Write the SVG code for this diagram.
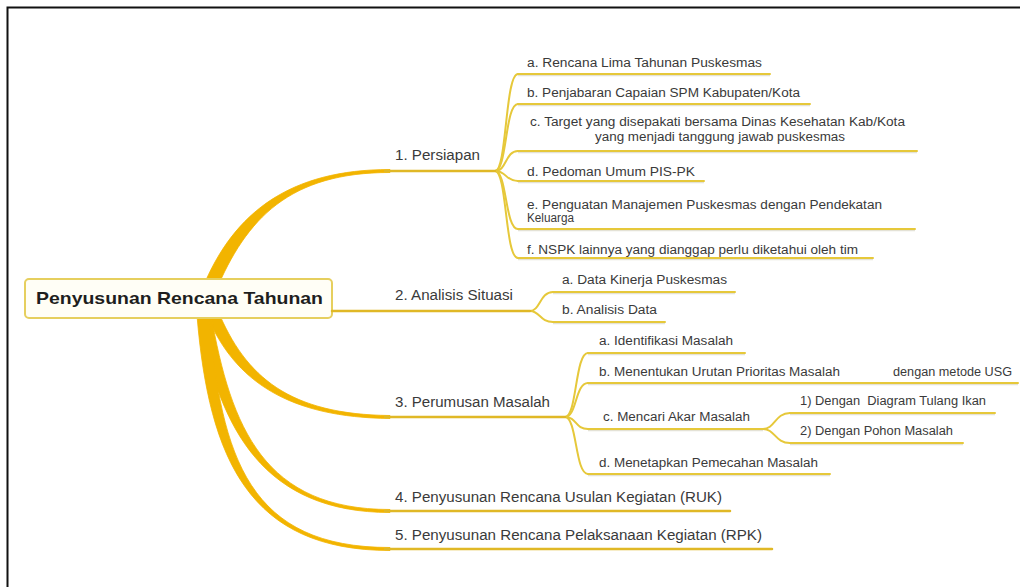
<svg xmlns="http://www.w3.org/2000/svg" width="1020" height="587" viewBox="0 0 1020 587">
<style>
.t1{font-family:"Liberation Sans",Arial,sans-serif;font-size:14px;fill:#3a3a3a}
.t2{font-family:"Liberation Sans",Arial,sans-serif;font-size:12px;fill:#3a3a3a}
.root{font-family:"Liberation Sans",Arial,sans-serif;font-size:17px;font-weight:bold;fill:#1e1e1e}
.ul1{stroke:#e0b826;stroke-width:2.5;fill:none;stroke-linecap:round}
.ul2{stroke:#e6c83a;stroke-width:2;fill:none;stroke-linecap:round}
.sh{stroke:#e4e2d6;stroke-width:1.5;fill:none}
.br{fill:#f2b400;stroke:#f2b400;stroke-width:0.8;stroke-linejoin:round}
.sub{stroke:#e6c83a;stroke-width:2;fill:none;stroke-linecap:round}
</style>
<rect width="1020" height="587" fill="#ffffff"/>
<path d="M 7.5 587 V 7.5 H 1020" fill="none" stroke="#111" stroke-width="2"/>

<g id="connectors">
  <path class="br" d="M 202.6 288 C 233.6 212.2, 290 169.5, 390 169.5 L 390 172.5 C 290 172.5, 246.4 217.8, 215.4 292 Z"/>
  <path class="br" d="M 206.5 314.3 C 234.5 382.3, 290 417.5, 390 418.5 L 390 415.5 C 290 414.5, 245.5 377.7, 217.5 309.7 Z"/>
  <path class="br" d="M 199.1 316 C 219.1 431, 265 512.5, 390 512.5 L 390 509.5 C 265 509.5, 230.9 429, 210.9 314 Z"/>
  <path class="br" d="M 197 315.5 C 209 460.5, 250 550.5, 390 550.5 L 390 547.5 C 250 547.5, 221 459.5, 209 314.5 Z"/>
  <path class="sub" d="M 495 171 C 507 171, 505 74, 518 74"/>
  <path class="sub" d="M 495 171 C 507 171, 505 104, 518 104"/>
  <path class="sub" d="M 495 171 C 507 171, 505 151, 518 151"/>
  <path class="sub" d="M 495 171 C 507 171, 505 181, 518 181"/>
  <path class="sub" d="M 495 171 C 507 171, 505 229, 518 229"/>
  <path class="sub" d="M 495 171 C 507 171, 505 258, 518 258"/>
  <path class="sub" d="M 530 311 C 540 311, 540 292, 553 292"/>
  <path class="sub" d="M 530 311 C 540 311, 540 322, 553 322"/>
  <path class="sub" d="M 565 417 C 577 417, 575 353, 588 353"/>
  <path class="sub" d="M 565 417 C 577 417, 575 383, 588 383"/>
  <path class="sub" d="M 565 417 C 577 417, 575 429, 588 429"/>
  <path class="sub" d="M 565 417 C 577 417, 575 474, 588 474"/>
  <path class="sub" d="M 763 429 C 775 429, 775 413, 790 413"/>
  <path class="sub" d="M 763 429 C 775 429, 775 443, 790 443"/>
</g>

<g id="root">
  <rect x="25" y="279" width="307" height="39" rx="4" fill="#fffef6" stroke="#e6cf5e" stroke-width="2"/>
  <text class="root" x="36" y="304" textLength="287" lengthAdjust="spacingAndGlyphs">Penyusunan Rencana Tahunan</text>
</g>

<g id="n1">
  <line class="ul1" x1="385" y1="171" x2="495" y2="171"/>
  <text class="t1" x="395" y="160" textLength="85" lengthAdjust="spacingAndGlyphs">1. Persiapan</text>
</g>
<g id="n1a">
  <line class="sh" x1="518" y1="75.5" x2="770" y2="75.5"/>
  <line class="ul2" x1="518" y1="74" x2="770" y2="74"/>
  <text class="t2" x="527" y="67" textLength="235" lengthAdjust="spacingAndGlyphs">a. Rencana Lima Tahunan Puskesmas</text>
</g>
<g id="n1b">
  <line class="sh" x1="518" y1="105.5" x2="810" y2="105.5"/>
  <line class="ul2" x1="518" y1="104" x2="810" y2="104"/>
  <text class="t2" x="527" y="97" textLength="273" lengthAdjust="spacingAndGlyphs">b. Penjabaran Capaian SPM Kabupaten/Kota</text>
</g>
<g id="n1c">
  <line class="sh" x1="518" y1="152.5" x2="917" y2="152.5"/>
  <line class="ul2" x1="518" y1="151" x2="917" y2="151"/>
  <text class="t2" x="530" y="126" textLength="375" lengthAdjust="spacingAndGlyphs">c. Target yang disepakati bersama Dinas Kesehatan Kab/Kota</text>
  <text class="t2" x="595" y="141" textLength="250" lengthAdjust="spacingAndGlyphs">yang menjadi tanggung jawab puskesmas</text>
</g>
<g id="n1d">
  <line class="sh" x1="518" y1="182.5" x2="704" y2="182.5"/>
  <line class="ul2" x1="518" y1="181" x2="704" y2="181"/>
  <text class="t2" x="527" y="176" textLength="168" lengthAdjust="spacingAndGlyphs">d. Pedoman Umum PIS-PK</text>
</g>
<g id="n1e">
  <line class="sh" x1="518" y1="230.5" x2="915" y2="230.5"/>
  <line class="ul2" x1="518" y1="229" x2="915" y2="229"/>
  <text class="t2" x="527" y="209" textLength="355" lengthAdjust="spacingAndGlyphs">e. Penguatan Manajemen Puskesmas dengan Pendekatan</text>
  <text class="t2" x="527" y="222" textLength="47" lengthAdjust="spacingAndGlyphs">Keluarga</text>
</g>
<g id="n1f">
  <line class="sh" x1="518" y1="259.5" x2="873" y2="259.5"/>
  <line class="ul2" x1="518" y1="258" x2="873" y2="258"/>
  <text class="t2" x="527" y="254" textLength="331" lengthAdjust="spacingAndGlyphs">f. NSPK lainnya yang dianggap perlu diketahui oleh tim</text>
</g>

<g id="n2">
  <line class="ul1" x1="332" y1="311" x2="530" y2="311"/>
  <text class="t1" x="395" y="300" textLength="118" lengthAdjust="spacingAndGlyphs">2. Analisis Situasi</text>
</g>
<g id="n2a">
  <line class="sh" x1="553" y1="293.5" x2="735" y2="293.5"/>
  <line class="ul2" x1="553" y1="292" x2="735" y2="292"/>
  <text class="t2" x="562" y="284" textLength="165" lengthAdjust="spacingAndGlyphs">a. Data Kinerja Puskesmas</text>
</g>
<g id="n2b">
  <line class="sh" x1="553" y1="323.5" x2="665" y2="323.5"/>
  <line class="ul2" x1="553" y1="322" x2="665" y2="322"/>
  <text class="t2" x="562" y="314" textLength="95" lengthAdjust="spacingAndGlyphs">b. Analisis Data</text>
</g>

<g id="n3">
  <line class="ul1" x1="385" y1="417" x2="565" y2="417"/>
  <text class="t1" x="395" y="407" textLength="155" lengthAdjust="spacingAndGlyphs">3. Perumusan Masalah</text>
</g>
<g id="n3a">
  <line class="sh" x1="588" y1="354.5" x2="745" y2="354.5"/>
  <line class="ul2" x1="588" y1="353" x2="745" y2="353"/>
  <text class="t2" x="599" y="345" textLength="134" lengthAdjust="spacingAndGlyphs">a. Identifikasi Masalah</text>
</g>
<g id="n3b">
  <line class="sh" x1="588" y1="384.5" x2="1018" y2="384.5"/>
  <line class="ul2" x1="588" y1="383" x2="1018" y2="383"/>
  <text class="t2" x="599" y="376" textLength="241" lengthAdjust="spacingAndGlyphs">b. Menentukan Urutan Prioritas Masalah</text>
  <text class="t2" x="893" y="376" textLength="119" lengthAdjust="spacingAndGlyphs">dengan metode USG</text>
</g>
<g id="n3c">
  <line class="sh" x1="588" y1="430.5" x2="763" y2="430.5"/>
  <line class="ul2" x1="588" y1="429" x2="763" y2="429"/>
  <text class="t2" x="603" y="421" textLength="147" lengthAdjust="spacingAndGlyphs">c. Mencari Akar Masalah</text>
</g>
<g id="n3c1">
  <line class="sh" x1="790" y1="414.5" x2="995" y2="414.5"/>
  <line class="ul2" x1="790" y1="413" x2="995" y2="413"/>
  <text class="t2" x="800" y="405" textLength="186" lengthAdjust="spacingAndGlyphs" style="white-space:pre">1) Dengan  Diagram Tulang Ikan</text>
</g>
<g id="n3c2">
  <line class="sh" x1="790" y1="444.5" x2="963" y2="444.5"/>
  <line class="ul2" x1="790" y1="443" x2="963" y2="443"/>
  <text class="t2" x="800" y="435" textLength="153" lengthAdjust="spacingAndGlyphs">2) Dengan Pohon Masalah</text>
</g>
<g id="n3d">
  <line class="sh" x1="588" y1="475.5" x2="830" y2="475.5"/>
  <line class="ul2" x1="588" y1="474" x2="830" y2="474"/>
  <text class="t2" x="599" y="467" textLength="219" lengthAdjust="spacingAndGlyphs">d. Menetapkan Pemecahan Masalah</text>
</g>

<g id="n4">
  <line class="ul1" x1="385" y1="511" x2="730" y2="511"/>
  <text class="t1" x="395" y="502" textLength="327" lengthAdjust="spacingAndGlyphs">4. Penyusunan Rencana Usulan Kegiatan (RUK)</text>
</g>
<g id="n5">
  <line class="ul1" x1="385" y1="549" x2="772" y2="549"/>
  <text class="t1" x="395" y="540" textLength="367" lengthAdjust="spacingAndGlyphs">5. Penyusunan Rencana Pelaksanaan Kegiatan (RPK)</text>
</g>
</svg>
